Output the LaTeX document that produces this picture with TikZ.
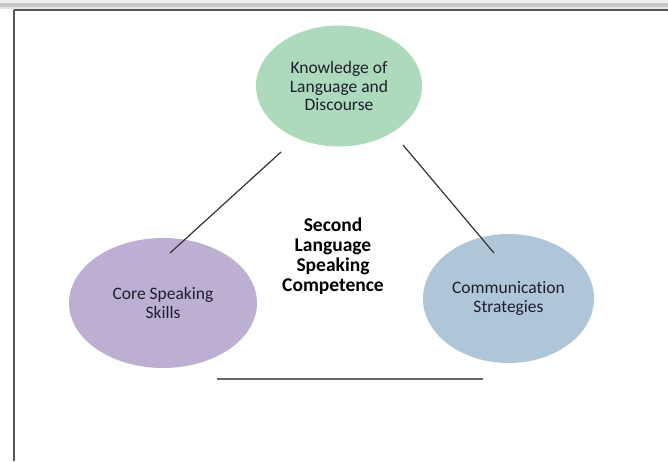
\documentclass[tikz,border=0pt]{standalone}
\usepackage{fontspec}
\setmainfont{Carlito}[RawFeature={-liga}]
\usetikzlibrary{shapes.geometric}
\definecolor{knowgreen}{HTML}{ADD9BC}
\definecolor{corepurple}{HTML}{BDAFD2}
\definecolor{commblue}{HTML}{AFC6D8}
\definecolor{txtdark}{HTML}{1E1E2A}
\definecolor{framegray}{HTML}{555555}
\tikzset{
  bubble/.style={ellipse, draw=none, inner sep=0pt, align=center, text=txtdark,
    font=\fontsize{17.5}{18.8}\selectfont},
  link/.style={draw=black!80, line width=1.2pt},
  baseline/.style={draw=black!60, line width=2pt},
  centertext/.style={align=center, font=\bfseries\fontsize{19.5}{20.2}\selectfont, text=black}
}
\begin{document}
\begin{tikzpicture}[x=1pt,y=-1pt]
\useasboundingbox (0,0) rectangle (668,461);
\fill[white] (0,0) rectangle (668,461);
% window frame
\fill[black!6] (0,0) rectangle (668,3);
\fill[black!22] (0,3) rectangle (668,7);
\fill[black!10] (0,7) rectangle (668,8.5);
\draw[framegray, line width=2pt] (14,9.5) -- (668,9.5);
\draw[framegray, line width=2pt] (14,9.5) -- (14,461);
% ellipses
\node[bubble, fill=knowgreen, minimum width=166pt, minimum height=121pt] (know) at (339,86)
  {Knowledge of\\Language and\\Discourse};
\node[bubble, fill=corepurple, minimum width=188pt, minimum height=130pt] (core) at (163,303)
  {Core Speaking\\Skills};
\node[bubble, fill=commblue, minimum width=171pt, minimum height=129pt] (comm) at (508.5,298.5)
  {Communication\\Strategies};
\node[centertext] (center) at (333,256) {Second\\Language\\Speaking\\Competence};
% connectors
\coordinate (kl) at (281,152);
\coordinate (cl) at (170,253);
\coordinate (kr) at (403,145);
\coordinate (cr) at (494,253);
\coordinate (bl) at (217,379);
\coordinate (br) at (483,379);
\draw[link] (kl) -- (cl);
\draw[link] (kr) -- (cr);
\draw[baseline] (bl) -- (br);
\end{tikzpicture}
\end{document}
